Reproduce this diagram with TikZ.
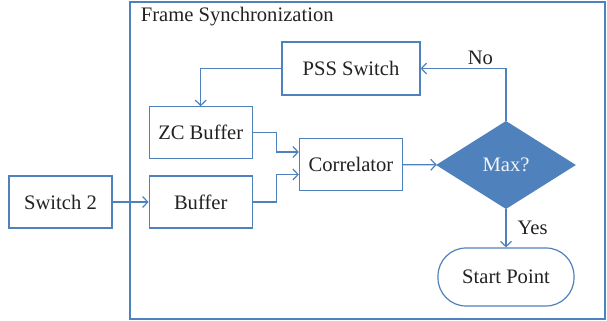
\documentclass[tikz,border=0pt]{standalone}
\usepackage{fontspec}
\setmainfont{Liberation Serif}
\usetikzlibrary{shapes.geometric, arrows.meta, positioning, calc}
\definecolor{lineblue}{HTML}{4F81BD}
\definecolor{txtgray}{HTML}{222222}

\begin{document}
\begin{tikzpicture}[
  x=0.5pt, y=-0.5pt,
  block/.style  = {draw=lineblue, rectangle, line width=0.6pt,
                   fill=white, text=txtgray,
                   minimum height=26pt, minimum width=51.5pt,
                   align=center, font=\fontsize{10.3}{12}\selectfont},
  wide/.style   = {block, minimum height=26.5pt, minimum width=69pt},
  decide/.style = {diamond, draw=lineblue, fill=lineblue, line width=0.6pt,
                   inner sep=0pt, text=white!92!lineblue,
                   minimum height=43.5pt, minimum width=69pt,
                   font=\fontsize{10.3}{12}\selectfont},
  term/.style   = {block, rounded corners=14pt,
                   minimum height=29pt, minimum width=68pt},
  frame/.style  = {draw=lineblue, line width=0.6pt, rectangle,
                   minimum width=237.5pt, minimum height=158.5pt},
  arr/.style    = {-{Straight Barb[length=2.6pt, width=5.5pt]},
                   line width=0.6pt, draw=lineblue},
  lbl/.style    = {font=\fontsize{10.3}{12}\selectfont,
                   text=txtgray, inner sep=1.5pt}
]
\useasboundingbox (0,0) rectangle (607,321);

%── Рамка ────────────────────────────────────────────────────────────────
\node[frame] (sync) at (367.5,160.5) {};
\node[lbl, anchor=north west] (title) at ($(sync.north west)+(8,2)$)
  {Frame Synchronization};

%── Блоки ────────────────────────────────────────────────────────────────
\node[block] (switch) at (60.5,202) {Switch 2};
\node[block, right=18pt of switch] (buffer) {Buffer};
\node[block, above=8pt of buffer] (zc) {ZC Buffer};
\node[block] (corr) at (351,164.5) {Correlator};
\node[wide] (pss) at (351,68.5) {PSS Switch};
\node[decide] (max) at (506,165) {Max?};
\node[term] (start) at (506,277) {Start Point};

%── Стрелки ──────────────────────────────────────────────────────────────
\draw[arr] (switch) -- (buffer);

\draw[arr] (zc.east) -- ++(24,0) |- ($(corr.west)+(0,-12.5)$);
\draw[arr] (buffer.east) -- ++(24,0) |- ($(corr.west)+(0,10)$);

\draw[arr] (corr) -- (max);

\draw[arr] (max.north) |-
  node[lbl, above, pos=0.65] {No}
  (pss.east);

\draw[arr] (pss.west) -| (zc.north);

\draw[arr] (max.south) --
  node[lbl, right, xshift=4pt] {Yes}
  (start.north);

\end{tikzpicture}
\end{document}
